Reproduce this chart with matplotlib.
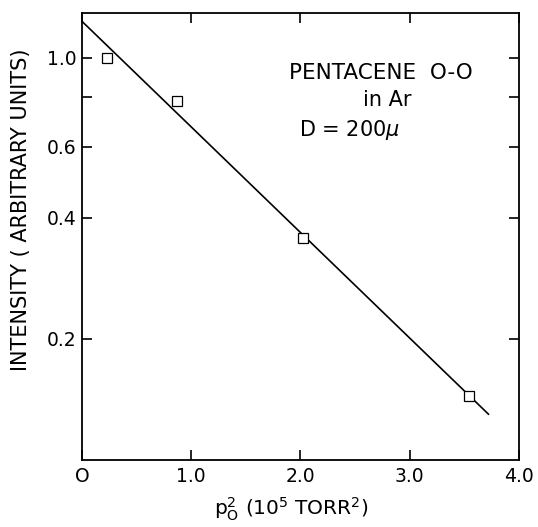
import numpy as np
import matplotlib
matplotlib.use("Agg")
import matplotlib.pyplot as plt
import matplotlib.ticker as ticker

# measured points (p0^2 in 1e5 torr^2, intensity)
p0_sq = [0.23, 0.87, 2.02, 3.54]
intensity = [0.995, 0.78, 0.356, 0.144]

# fitted straight line on the log plot
fit_x = [0.0, 3.72]
fit_y = [1.23, 0.13]

y_ticks = [0.2, 0.4, 0.6, 0.8, 1.0]
y_labels = ["0.2", "0.4", "0.6", "", "1.0"]
x_ticks = [0, 1, 2, 3, 4]
x_labels = ["O", "1.0", "2.0", "3.0", "4.0"]

plt.rcParams['font.family'] = ['DejaVu Sans']

fig = plt.figure(figsize=(5.38, 5.27), dpi=100)
ax = fig.add_axes([0.1524, 0.1271, 0.8123, 0.8482])

ax.plot(fit_x, fit_y, color='black', lw=1.2)
ax.plot(p0_sq, intensity, ls='none', marker='s', ms=7, mfc='white', mec='black', mew=0.9)

ax.set_yscale('log')
ax.set_xlim(0, 4)
ax.set_ylim(0.1, 1.29)

ax.yaxis.set_major_locator(ticker.FixedLocator(y_ticks))
ax.yaxis.set_major_formatter(ticker.FixedFormatter(y_labels))
ax.yaxis.set_minor_locator(ticker.NullLocator())
ax.xaxis.set_major_locator(ticker.FixedLocator(x_ticks))
ax.xaxis.set_major_formatter(ticker.FixedFormatter(x_labels))

ax.tick_params(direction='in', length=7.5, width=1.2, labelsize=13.5,
               top=True, right=True)
ax.tick_params(axis='y', pad=4)
ax.tick_params(axis='x', pad=5)
for s in ax.spines.values():
    s.set_linewidth(1.3)

ax.set_ylabel("INTENSITY ( ARBITRARY UNITS)", fontsize=15)
ax.yaxis.set_label_coords(-0.117, 0.56)
ax.set_xlabel(r"p$_\mathregular{O}^\mathregular{2}$ (10$^\mathregular{5}$ TORR$^\mathregular{2}$)",
              fontsize=14.5)
ax.xaxis.set_label_coords(0.48, -0.08)

ax.text(0.684, 0.866, "PENTACENE  O-O", transform=ax.transAxes, ha='center', va='center', fontsize=15.5)
ax.text(0.698, 0.805, "in Ar", transform=ax.transAxes, ha='center', va='center', fontsize=15)
ax.text(0.613, 0.738, r"D = 200$\mu$", transform=ax.transAxes, ha='center', va='center', fontsize=15)

fig.savefig("out.png", dpi=100)
